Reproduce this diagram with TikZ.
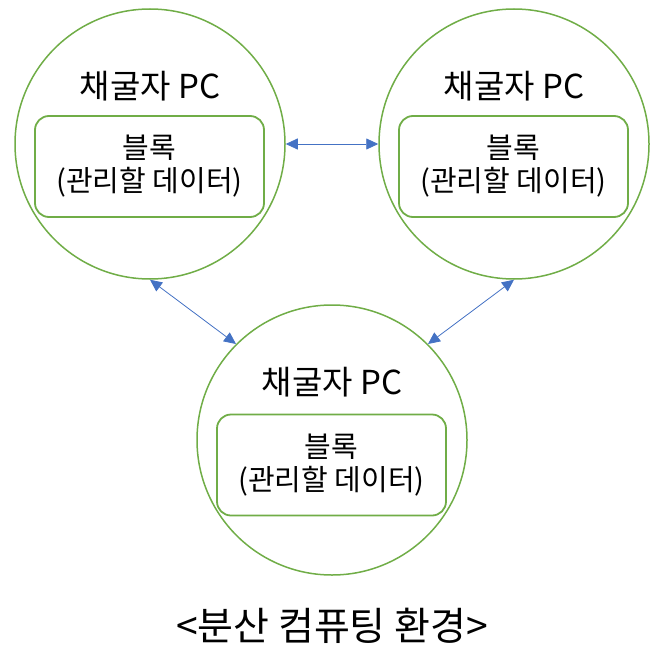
\documentclass[tikz,border=0pt]{standalone}
\usepackage{fontspec}
\setmainfont{Noto Sans CJK KR}
\usetikzlibrary{arrows.meta}
\definecolor{grn}{HTML}{70AD47}
\definecolor{blu}{HTML}{4472C4}
\begin{document}
\begin{tikzpicture}[x=1pt,y=-1pt,
  pc/.style={circle,draw=grn,line width=1.5pt,minimum size=270pt,inner sep=0pt},
  blk/.style={draw=grn,line width=1.8pt,rounded corners=14pt,minimum width=229pt,minimum height=101pt,inner sep=0pt,align=center,font=\fontsize{29}{33}\selectfont},
  ttl/.style={font=\fontsize{33}{36}\selectfont},
  link/.style={draw=blu,line width=0.8pt,{Triangle[length=12pt,width=11pt]}-{Triangle[length=12pt,width=11pt]}}]
\useasboundingbox (0,0) rectangle (660,663);
\node[pc] (c1) at (150,144) {};
\node[pc] (c2) at (514,144) {};
\node[pc] (c3) at (332,440) {};
\node[ttl] (t1) at (150,86) {채굴자 PC};
\node[ttl] (t2) at (514,86) {채굴자 PC};
\node[ttl] (t3) at (332,382) {채굴자 PC};
\node[blk] (b1) at (149.5,166.5) {블록\\(관리할 데이터)};
\node[blk] (b2) at (513.5,166.5) {블록\\(관리할 데이터)};
\node[blk] (b3) at (331.5,465) {블록\\(관리할 데이터)};
\draw[link] (c1.east) -- (c2.west);
\draw[link] (c1.south) -- (c3.135);
\draw[link] (c2.south) -- (c3.45);
\node[font=\fontsize{39}{42}\selectfont] (cap) at (332,626) {<분산 컴퓨팅 환경>};
\end{tikzpicture}
\end{document}
